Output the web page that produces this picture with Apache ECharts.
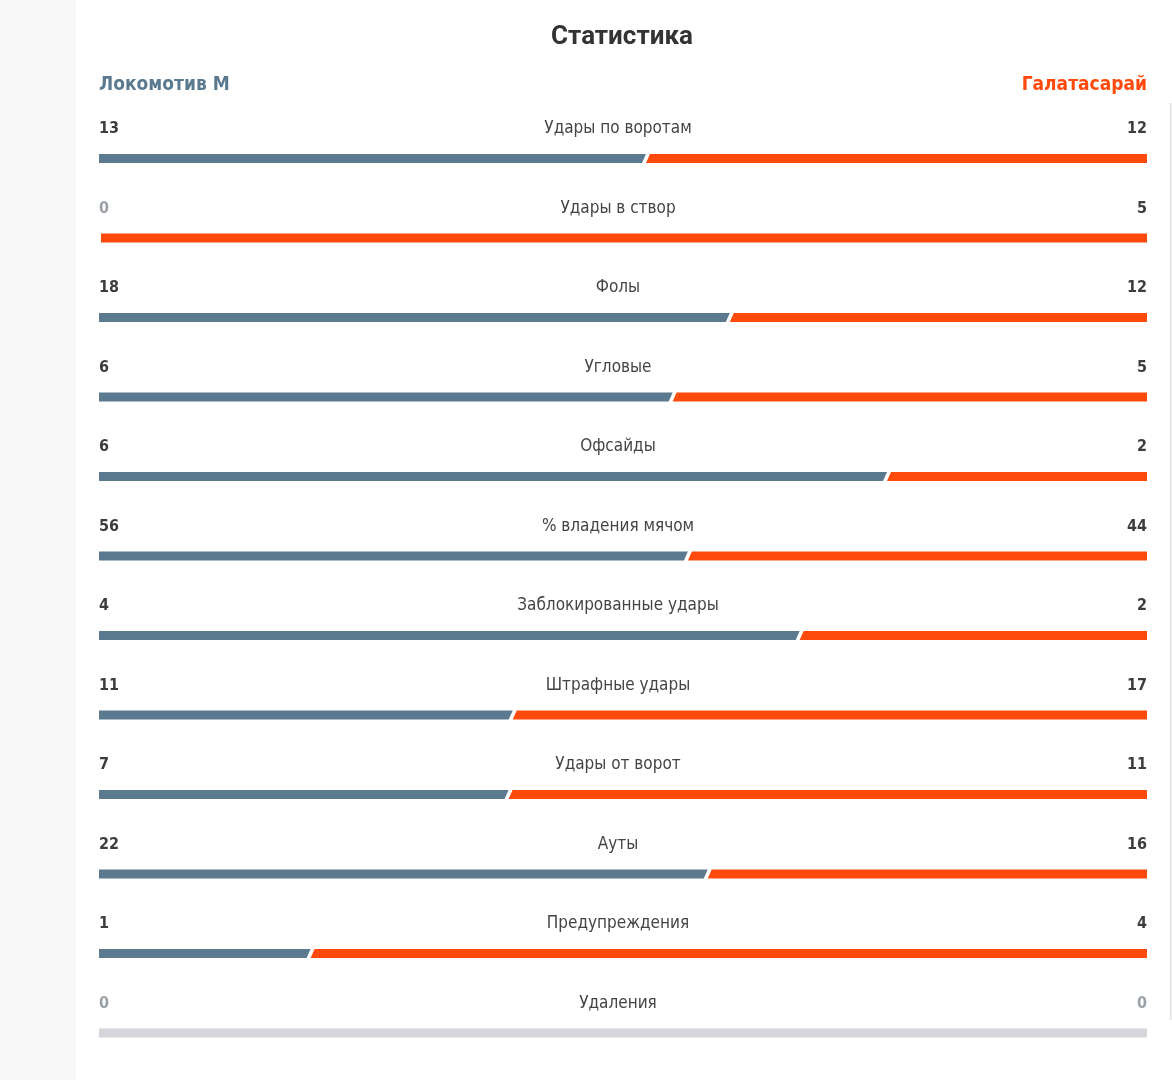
<!DOCTYPE html>
<html><head><meta charset="utf-8">
<script src="https://cdn.jsdelivr.net/npm/echarts@6/dist/echarts.min.js"></script>
<style>html,body{margin:0;padding:0;background:#fff}#c{width:1172px;height:1080px}</style>
</head><body><div id="c"></div>
<script>
const titleText = "Статистика";
const homeTeam = "Локомотив М";
const awayTeam = "Галатасарай";
const categories = ["Удары по воротам","Удары в створ","Фолы","Угловые","Офсайды","% владения мячом","Заблокированные удары","Штрафные удары","Удары от ворот","Ауты","Предупреждения","Удаления"];
const homeValues = [13,0,18,6,6,56,4,11,7,22,1,0];
const awayValues = [12,5,12,5,2,44,2,17,11,16,4,0];

const HOME = "#5b7a8f", AWAY = "#ff4a0b", EMPTY = "#d5d6db";
const NARROW = '"Liberation Sans Narrow","DejaVu Sans Condensed",Roboto,sans-serif';

const data = categories.map((c,i)=>{
  const t = homeValues[i] + awayValues[i];
  return [t ? homeValues[i]/t : 0.5, i, homeValues[i], awayValues[i], c];
});

const chart = echarts.init(document.getElementById('c'), null, {renderer:'canvas'});
chart.setOption({
  backgroundColor:'#fff',
  animation:false,
  grid:{left:99, right:25, top:118.75, bottom:7.25},
  xAxis:{type:'value', min:0, max:1, show:false},
  yAxis:{type:'category', data:categories, inverse:true, show:false},
  graphic:[
    {type:'rect', shape:{x:0,y:0,width:76,height:1080}, style:{fill:'#f8f8f8'}, z:-10},
    {type:'rect', shape:{x:1170,y:103,width:1.5,height:917}, style:{fill:'#e2e2e2'}, z:-10},
    {type:'text', x:622, y:37, style:{text:titleText, font:'bold 26px Roboto, sans-serif', fill:'#333', align:'center', verticalAlign:'middle'}},
    {type:'text', x:99, y:85, style:{text:homeTeam, font:'bold 19px '+NARROW, fill:HOME, align:'left', verticalAlign:'middle'}},
    {type:'text', x:1147, y:85, style:{text:awayTeam, font:'bold 19px '+NARROW, fill:AWAY, align:'right', verticalAlign:'middle'}}
  ],
  series:[{
    type:'custom',
    data:data,
    encode:{x:0,y:1},
    renderItem:function(params, api){
      const share = api.value(0), idx = api.value(1), h = api.value(2), a = api.value(3);
      const name = categories[idx];
      const p0 = api.coord([0, idx]), p1 = api.coord([1, idx]), ps = api.coord([share, idx]);
      const y = p0[1], x0 = p0[0], x1 = p1[0], xs = ps[0];
      const hh = 4.5;
      const children = [];
      if (h + a === 0) {
        children.push({type:'rect', shape:{x:x0, y:y-hh, width:x1-x0, height:hh*2}, style:{fill:EMPTY}});
      } else if (h === 0) {
        children.push({type:'rect', shape:{x:x0+2, y:y-hh, width:x1-x0-2, height:hh*2}, style:{fill:AWAY}});
      } else if (a === 0) {
        children.push({type:'rect', shape:{x:x0, y:y-hh, width:x1-x0-2, height:hh*2}, style:{fill:HOME}});
      } else {
        children.push({type:'polygon', shape:{points:[[x0,y-hh],[xs+2,y-hh],[xs-2,y+hh],[x0,y+hh]]}, style:{fill:HOME}});
        children.push({type:'polygon', shape:{points:[[xs+6,y-hh],[x1,y-hh],[x1,y+hh],[xs+2,y+hh]]}, style:{fill:AWAY}});
      }
      const ty = y - 29.5;
      children.push({type:'text', x:x0, y:ty, style:{text:String(h), font:'bold 16px '+NARROW, fill:h===0?'#9aa1a8':'#3d3d3d', align:'left', verticalAlign:'middle'}});
      children.push({type:'text', x:x1, y:ty, style:{text:String(a), font:'bold 16px '+NARROW, fill:a===0?'#9aa1a8':'#3d3d3d', align:'right', verticalAlign:'middle'}});
      children.push({type:'text', x:618, y:ty, style:{text:name, font:'17px '+NARROW, fill:'#444', align:'center', verticalAlign:'middle'}});
      return {type:'group', children:children};
    }
  }]
});
</script></body></html>
